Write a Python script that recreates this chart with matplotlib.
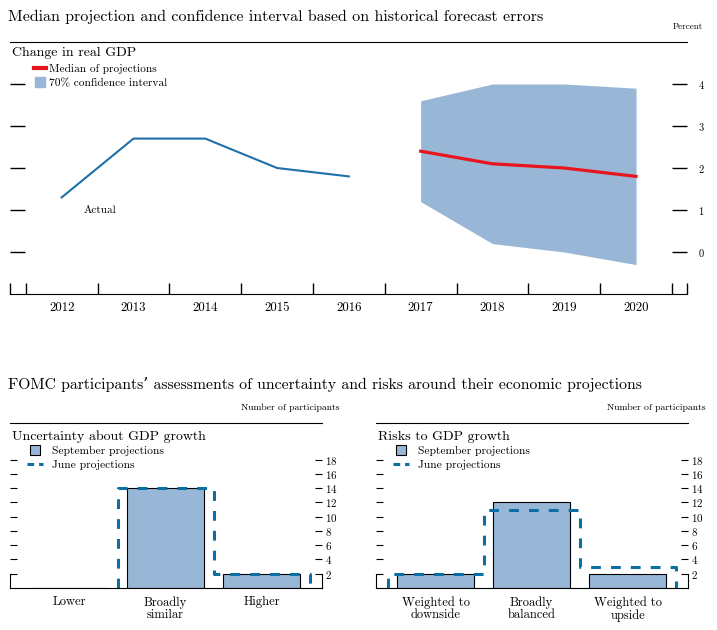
import numpy as np
import matplotlib.pyplot as plt
from matplotlib.lines import Line2D

plt.rcParams['font.family'] = ['cmr10', 'DejaVu Serif']
plt.rcParams['axes.formatter.use_mathtext'] = True

# top chart: change in real GDP, percent
actual_years = [2012, 2013, 2014, 2015, 2016]
actual_gdp = [1.3, 2.7, 2.7, 2.0, 1.8]
proj_years = [2017, 2018, 2019, 2020]
median_proj = [2.4, 2.1, 2.0, 1.8]
ci_lower = [1.2, 0.2, 0.0, -0.3]
ci_upper = [3.6, 4.0, 4.0, 3.9]

# bottom charts: number of participants
unc_cats = ['Lower', 'Broadly\nsimilar', 'Higher']
unc_sep = [0, 14, 2]
unc_june = [0, 14, 2]
risk_cats = ['Weighted to\ndownside', 'Broadly\nbalanced', 'Weighted to\nupside']
risk_sep = [2, 12, 2]
risk_june = [2, 11, 3]

band = '#98b6d6'
line_blue = '#1f6fa8'
dash_blue = '#0b6fa4'
red = '#e8151f'

W, H = 717, 630
fig = plt.figure(figsize=(W / 100, H / 100), dpi=100)


def fx(px):
    return px / W


def fy(py):
    return 1 - py / H


fig.text(fx(8), fy(17), 'Median projection and confidence interval based on historical forecast errors',
         fontsize=11.5, va='center')
fig.text(fx(703), fy(27), 'Percent', fontsize=6.5, ha='right', va='center')
fig.text(fx(12), fy(53), 'Change in real GDP', fontsize=10, va='center')

ax = fig.add_axes([fx(10), fy(294), fx(677), 252 / H])
ax.fill_between(proj_years, ci_lower, ci_upper, color=band, lw=0)
ax.plot(actual_years, actual_gdp, color=line_blue, lw=1.5)
ax.plot(proj_years, median_proj, color=red, lw=2.3)
ax.text(2012.31, 1.0, 'Actual', fontsize=8, va='center')

ax.set_xlim(2011.28, 2020.71)
ax.set_ylim(-1, 5)
edges = list(np.arange(2011.5, 2021, 1.0)) + [2011.28, 2020.71]
ax.set_xticks(edges)
ax.set_xticks(actual_years + proj_years, minor=True)
ax.set_xticklabels([str(y) for y in actual_years + proj_years], minor=True)
ax.tick_params(axis='x', which='major', direction='in', length=8, width=1, labelbottom=False)
ax.tick_params(axis='x', which='minor', length=0, pad=6, labelsize=9.3)
ax.set_yticks(range(0, 5))
ax.tick_params(axis='y', direction='in', length=10.8, width=1, left=True, right=True,
               labelleft=False, labelright=True, pad=8, labelsize=7.5)
ax.spines['left'].set_visible(False)
ax.spines['right'].set_visible(False)

handles = [Line2D([], [], color=red, lw=3),
           Line2D([], [], marker='s', ls='none', markersize=7, color=band)]
ax.legend(handles, ['Median of projections', '70% confidence interval'],
          loc='upper left', bbox_to_anchor=(fx(34), fy(64)), bbox_transform=fig.transFigure,
          frameon=False, fontsize=8.2, handlelength=1.05, handletextpad=0.3,
          borderpad=0, borderaxespad=0, labelspacing=0.38)

fig.text(fx(8), fy(385),
         'FOMC participants\u2019 assessments of uncertainty and risks around their economic projections',
         fontsize=11.3, va='center')


def june_outline(vals):
    xs, ys = [], []
    prev = 0
    for i, v in enumerate(vals):
        xs += [i - 0.5, i - 0.5]
        ys += [prev, v]
        if v == 0:
            xs.append(np.nan)
            ys.append(np.nan)
        xs.append(i + 0.5)
        ys.append(v)
        prev = v
    xs += [len(vals) - 0.5, len(vals) - 0.5]
    ys += [prev, 0]
    return xs, ys


def panel(left, cats, sep, june, title):
    fig.text(fx(left + 2), fy(437), title, fontsize=10, va='center')
    fig.text(fx(left + 330), fy(408), 'Number of participants', fontsize=7, ha='right', va='center')
    a = fig.add_axes([fx(left), fy(588), fx(312), 165 / H])
    x = np.arange(len(cats))
    a.bar(x, sep, width=0.8, color=band, edgecolor='black', lw=0.8, zorder=1)
    xs, ys = june_outline(june)
    a.plot(xs, ys, color=dash_blue, lw=2.2, dashes=(3.2, 3.3), zorder=2)
    a.set_xlim(-0.62, 2.63)
    a.set_ylim(0, 23.15)
    a.set_xticks(x)
    a.set_xticklabels(cats, fontsize=9, linespacing=1.0)
    a.tick_params(axis='x', length=0, pad=6)
    a.set_yticks(range(2, 19, 2))
    a.tick_params(axis='y', direction='in', length=5, width=0.8, left=True, right=True,
                  labelleft=False, labelright=True, pad=2.5, labelsize=8)
    a.spines['left'].set_bounds(0, 2)
    a.spines['right'].set_bounds(0, 2)
    h = [Line2D([], [], marker='s', ls='none', markersize=7, markerfacecolor=band,
                markeredgecolor='black', mew=0.8),
         Line2D([], [], color=dash_blue, lw=2.2, dashes=(2.2, 1.6))]
    a.legend(h, ['September projections', 'June projections'],
             loc='upper left', bbox_to_anchor=(fx(left + 17), fy(446)), bbox_transform=fig.transFigure,
             frameon=False, fontsize=8.3, handlelength=1.4, handletextpad=0.8,
             borderpad=0, borderaxespad=0, labelspacing=0.32)
    return a


panel(10, unc_cats, unc_sep, unc_june, 'Uncertainty about GDP growth')
panel(376, risk_cats, risk_sep, risk_june, 'Risks to GDP growth')

plt.savefig('out.png', dpi=100)
